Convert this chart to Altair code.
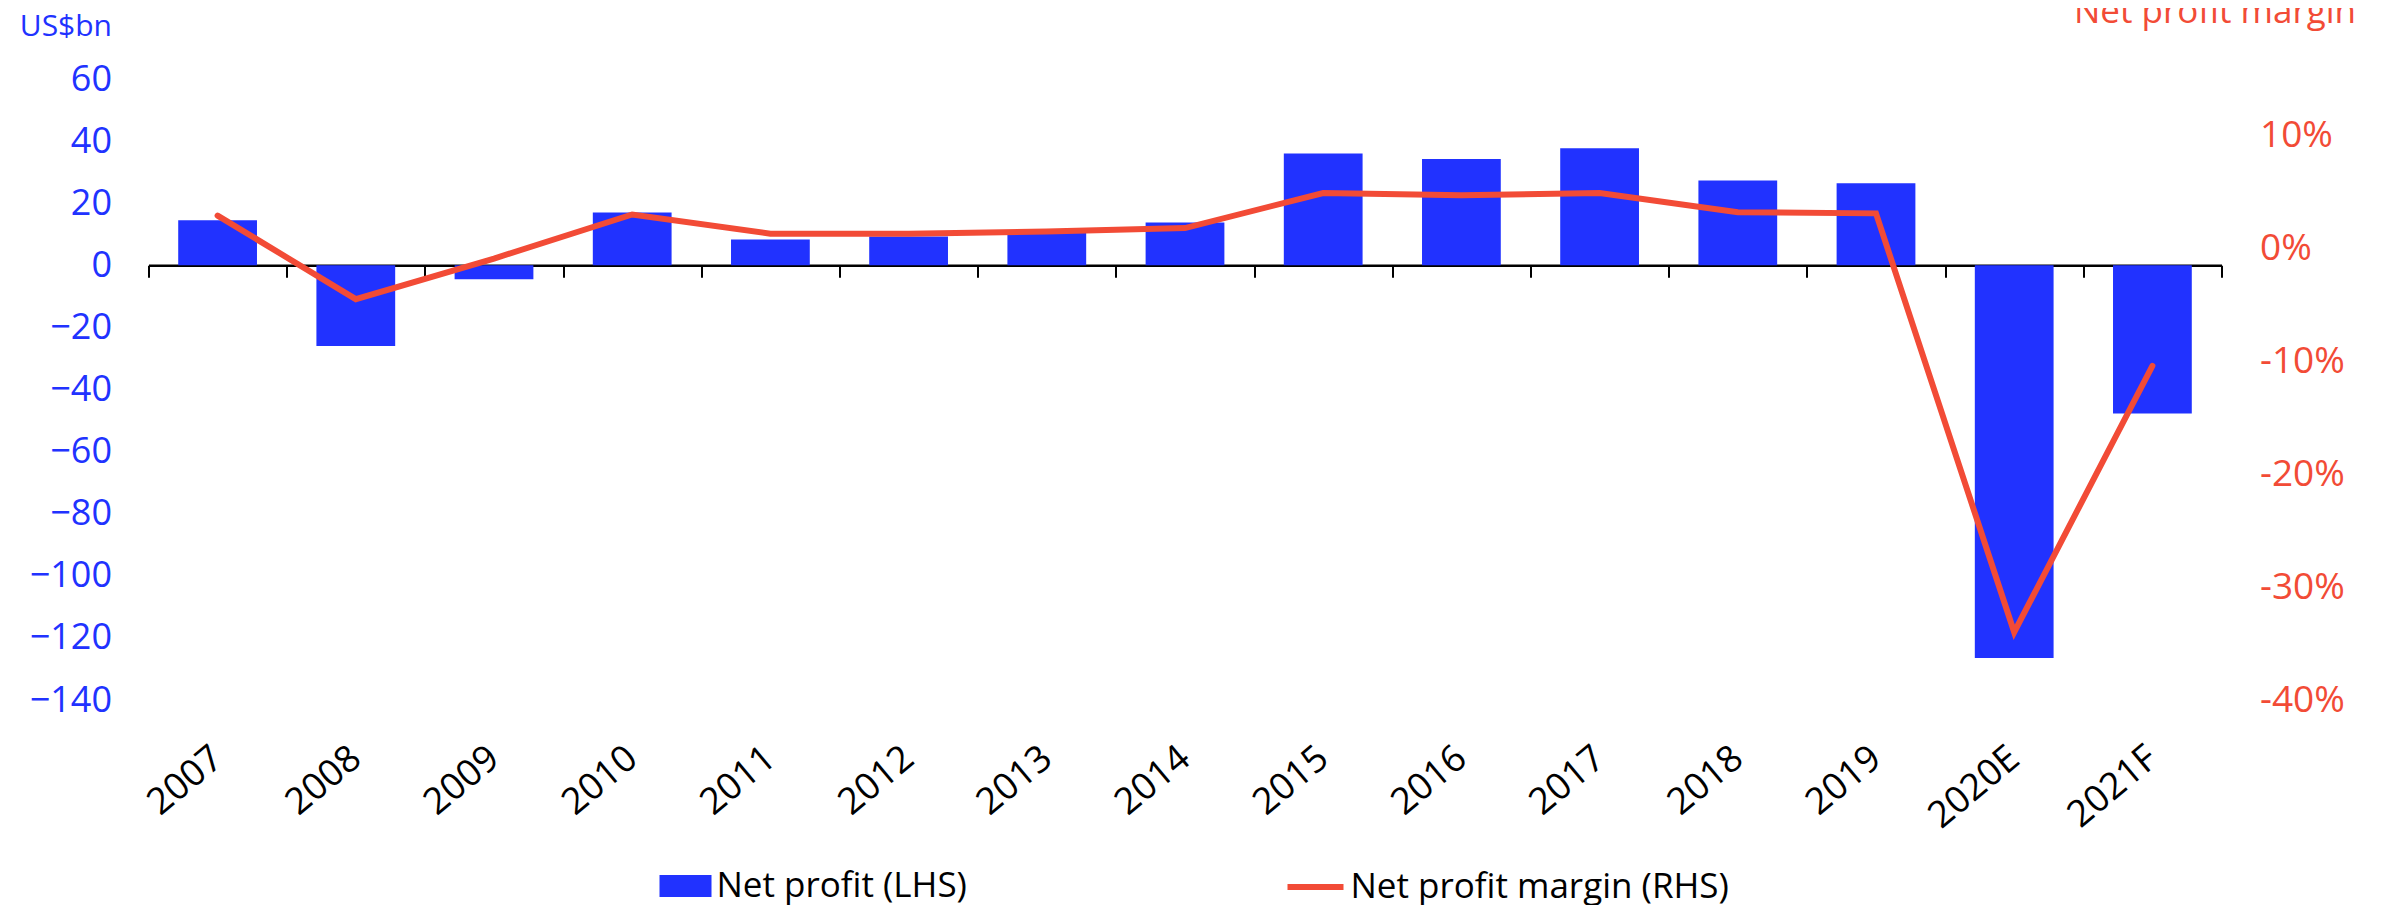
import altair as alt
import pandas as pd

years = ["2007", "2008", "2009", "2010", "2011", "2012", "2013", "2014",
         "2015", "2016", "2017", "2018", "2019", "2020E", "2021F"]
net_profit = [14.5, -26.0, -4.5, 17.0, 8.3, 9.3, 10.6, 13.8,
              36.0, 34.2, 37.7, 27.3, 26.4, -126.5, -47.7]
margin_pct = [2.9, -4.5, -0.9, 3.0, 1.3, 1.3, 1.5, 1.8,
              4.9, 4.7, 4.9, 3.2, 3.1, -34.0, -10.4]
left_ticks = [60, 40, 20, 0, -20, -40, -60, -80, -100, -120, -140]
right_ticks = [10, 0, -10, -20, -30, -40]

BAR_NAME = "Net profit (LHS)"
LINE_NAME = "Net profit margin (RHS)"
BLUE = "#2132FF"
RED = "#F24B36"
FONT = "Open Sans"

df = pd.DataFrame({
    "year": years,
    "profit": net_profit,
    "margin": margin_pct,
    "bar_s": BAR_NAME,
    "line_s": LINE_NAME,
})

W, H = 2073, 621
zero_frac = 60 / 200.0

x_enc = alt.X(
    "year:N", sort=years, title=None,
    scale=alt.Scale(paddingInner=0, paddingOuter=0),
    axis=alt.Axis(
        orient="bottom", offset=-(H * (1 - zero_frac)),
        domainColor="black", domainWidth=2.5,
        ticks=True, tickColor="black", tickWidth=2, tickSize=12, tickBand="extent",
        labelAngle=-40, labelAlign="right", labelBaseline="middle",
        labelFont=FONT, labelFontSize=37, labelColor="black",
        labelPadding=476, grid=False,
    ),
)

bars = alt.Chart(df).mark_bar(width={"band": 0.57}).encode(
    x=x_enc,
    y=alt.Y(
        "profit:Q",
        scale=alt.Scale(domain=[-140, 60], nice=False),
        axis=alt.Axis(
            orient="left", values=left_ticks, grid=False, ticks=False, domain=False,
            labelFont=FONT, labelFontSize=36, labelColor=BLUE, labelPadding=37,
            title="US$bn", titleFont=FONT, titleFontSize=30, titleFontWeight="normal",
            titleColor=BLUE, titleAngle=0, titleAlign="right", titleBaseline="alphabetic",
            titleX=-37, titleY=-44,
        ),
    ),
    fill=alt.Fill(
        "bar_s:N", scale=alt.Scale(domain=[BAR_NAME], range=[BLUE]),
        legend=alt.Legend(
            title=None, orient="none", legendX=511, legendY=781, padding=0,
            symbolType="M-1,-0.423H1V0.423H-1Z", symbolSize=2704,
            symbolStrokeWidth=0, labelFont=FONT, labelFontSize=35,
            labelColor="black", labelOffset=5, labelLimit=0,
        ),
    ),
)

line = alt.Chart(df).mark_line(strokeWidth=6, strokeCap="round").encode(
    x=x_enc,
    y=alt.Y(
        "margin:Q",
        scale=alt.Scale(domain=[-40, 15], nice=False),
        axis=alt.Axis(
            orient="right", values=right_ticks, grid=False, ticks=False, domain=False,
            labelExpr="datum.value + '%'",
            labelFont=FONT, labelFontSize=37, labelColor=RED, labelPadding=38,
            title="Net profit margin", titleFont=FONT, titleFontSize=35,
            titleFontWeight="normal", titleColor=RED, titleAngle=0,
            titleAlign="right", titleBaseline="alphabetic", titleX=134, titleY=-57,
        ),
    ),
    stroke=alt.Stroke(
        "line_s:N", scale=alt.Scale(domain=[LINE_NAME], range=[RED]),
        legend=alt.Legend(
            title=None, orient="none", legendX=1136, legendY=777, padding=0,
            symbolType="stroke", symbolSize=3136, symbolStrokeWidth=6,
            labelFont=FONT, labelFontSize=35, labelColor="black", labelOffset=4,
            labelLimit=0,
        ),
    ),
)

chart = alt.layer(bars, line).resolve_scale(
    y="independent", fill="independent", stroke="independent"
).properties(
    width=W, height=H,
    autosize=alt.AutoSizeParams(type="none"),
    padding={"left": 140.5, "top": 71, "right": 150, "bottom": 210},
    background="white",
).configure_view(stroke=None)

chart.save("out.html", embed_options={"renderer": "svg", "actions": False})
